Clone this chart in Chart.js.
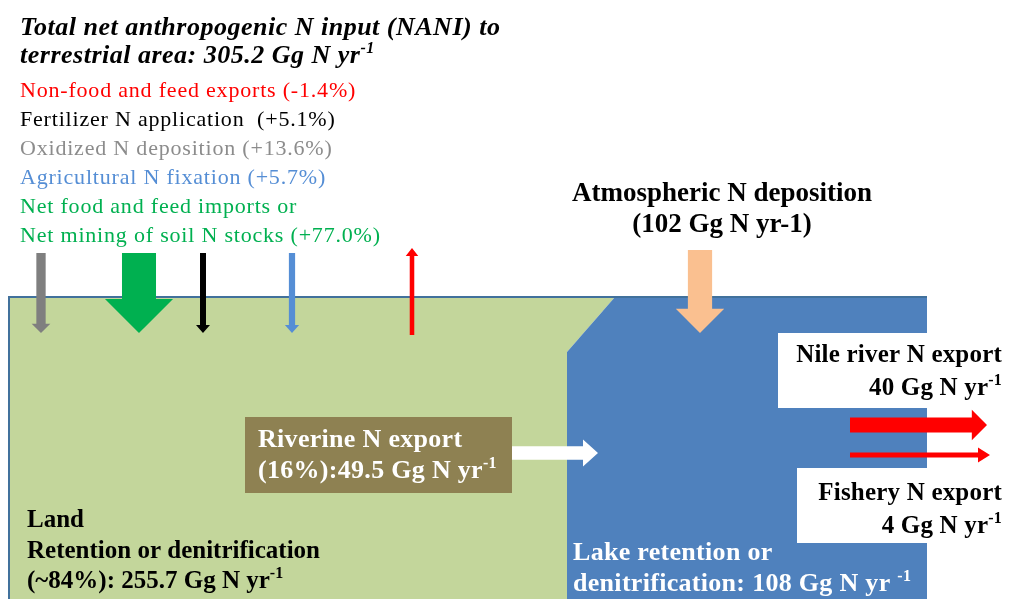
<!DOCTYPE html>
<html>
<head>
<meta charset="utf-8">
<script src="https://cdn.jsdelivr.net/npm/chart.js@4.4.1/dist/chart.umd.min.js"></script>
<style>
  html, body { margin: 0; padding: 0; background: #fff; }
  canvas { display: block; }
</style>
</head>
<body>
<canvas id="nani" width="1012" height="599"></canvas>
<script>
// N budget of the basin, Gg N per year, and shares of NANI
const naniTotal = 305.2;
const inputLabels = ["Non-food and feed exports", "Fertilizer N application ", "Oxidized N deposition",
  "Agricultural N fixation", "Net food and feed imports or|Net mining of soil N stocks"];
const inputShares = [-1.4, 5.1, 13.6, 5.7, 77.0];
const landRetention = 255.7;
const landRetentionShare = 84;
const riverineExport = 49.5;
const riverineShare = 16;
const atmDeposition = 102;
const lakeRetention = 108;
const outputLabels = ["Nile river N export", "Fishery N export"];
const outputValues = [40, 4];

// look and layout (diagram units = px of the 1012x599 frame)
const inputTextColors = ["#ff0000", "#000000", "#8c8c8c", "#558ed5", "#00b050"];
const inputArrowColors = ["#ff0000", "#000000", "#7f7f7f", "#558ed5", "#00b050"];
const inputArrowX = [412, 203, 41, 292, 139];
const serif = '"Liberation Serif", "Times New Roman", serif';

const fmtShare = v => (v > 0 ? "+" : "") + v.toFixed(1) + "%";

// arrow outline from start to tip, shaft width w
function arrow(x0, y0, x1, y1, w, hw, hl) {
  const len = Math.hypot(x1 - x0, y1 - y0);
  const dx = (x1 - x0) / len, dy = (y1 - y0) / len;
  const nx = -dy, ny = dx;
  const bx = x1 - dx * hl, by = y1 - dy * hl;
  return [
    [x0 + nx * w / 2, y0 + ny * w / 2],
    [bx + nx * w / 2, by + ny * w / 2],
    [bx + nx * hw / 2, by + ny * hw / 2],
    [x1, y1],
    [bx - nx * hw / 2, by - ny * hw / 2],
    [bx - nx * w / 2, by - ny * w / 2],
    [x0 - nx * w / 2, y0 - ny * w / 2],
  ];
}
const inputWidth = s => 4 + 0.39 * Math.abs(s);
const flowWidth = v => 2.4 * Math.sqrt(v);

function poly(label, pts, color, layer) {
  return {
    label, polygon: layer, backgroundColor: color,
    data: pts.map(([x, y]) => ({ x, y })),
    showLine: false, pointRadius: 0, pointHoverRadius: 0,
  };
}

const datasets = [];
datasets.push(poly("Land", [[8, 297], [615, 297], [567, 352], [567, 599], [8, 599]], "#c3d69b", "back"));
datasets.push(poly("Lake", [[615, 297], [927, 297], [927, 599], [567, 599], [567, 352]], "#4f81bd", "back"));
datasets.push({ label: "edge top", data: [{ x: 8, y: 297 }, { x: 927, y: 297 }], showLine: true,
  borderColor: "#41719c", borderWidth: 2, pointRadius: 0 });
datasets.push({ label: "edge left", data: [{ x: 9, y: 297 }, { x: 9, y: 599 }], showLine: true,
  borderColor: "#41719c", borderWidth: 2, pointRadius: 0 });

// output boxes and riverine box
datasets.push(poly("Nile box", [[778, 333], [1012, 333], [1012, 408], [778, 408]], "#ffffff", "front"));
datasets.push(poly("Fishery box", [[797, 468], [1012, 468], [1012, 543], [797, 543]], "#ffffff", "front"));
datasets.push(poly("Riverine box", [[245, 417], [512, 417], [512, 493], [245, 493]], "#8e8152", "front"));

// NANI input arrows
inputShares.forEach((s, i) => {
  const w = inputWidth(s);
  const hw = Math.max(2 * w, w + 8), hl = Math.max(8, w);
  const x = inputArrowX[i];
  const pts = s < 0 ? arrow(x, 335, x, 248, w, hw, hl) : arrow(x, 253, x, 333, w, hw, hl);
  datasets.push(poly(inputLabels[i], pts, inputArrowColors[i], "front"));
});

// lake flows
{
  const w = flowWidth(atmDeposition);
  datasets.push(poly("Atmospheric", arrow(700, 250, 700, 333, w, Math.max(2 * w, w + 10), w), "#fac090", "front"));
  const wr = flowWidth(riverineExport) * 0.8;
  datasets.push(poly("Riverine", arrow(512, 453, 598, 453, wr, wr * 2, 15), "#ffffff", "front"));
  const outY = [425, 455], outEnd = [987, 990];
  outputValues.forEach((v, i) => {
    const wo = flowWidth(v);
    datasets.push(poly(outputLabels[i], arrow(850, outY[i], outEnd[i], outY[i], wo, Math.max(2 * wo, wo + 10), Math.max(12, wo)), "#ff0000", "front"));
  });
}

// text blocks: [x, baseline, align, font, color, parts, letter spacing]
const titleFont = "italic bold 26px " + serif;
const boldFont = "bold 25px " + serif;
const bigBold = "bold 26px " + serif;
const listFont = "22px " + serif;
const texts = [
  [20, 35, "left", titleFont, "#000", [["Total net anthropogenic N input (NANI) to"]], 0.5],
  [20, 63, "left", titleFont, "#000", [["terrestrial area: " + naniTotal.toFixed(1) + " Gg N yr"], ["-1", true]], 0.5],
];
{
  let y = 97;
  inputLabels.forEach((lab, i) => {
    const lines = lab.split("|");
    lines.forEach((ln, k) => {
      const t = k === lines.length - 1 ? ln + " (" + fmtShare(inputShares[i]) + ")" : ln;
      texts.push([20, y, "left", listFont, inputTextColors[i], [[t]], 0.8]);
      y += 29;
    });
  });
}
texts.push([722, 201, "center", "bold 27px " + serif, "#000", [["Atmospheric N deposition"]]]);
texts.push([722, 232, "center", "bold 27px " + serif, "#000", [["(" + atmDeposition + " Gg N yr-1)"]]]);
texts.push([1002, 362, "right", boldFont, "#000", [[outputLabels[0]]], 0.2]);
texts.push([1002, 395, "right", boldFont, "#000", [[outputValues[0] + " Gg N yr"], ["-1", true]], 0.2]);
texts.push([1002, 500, "right", boldFont, "#000", [[outputLabels[1]]], 0.2]);
texts.push([1002, 533, "right", boldFont, "#000", [[outputValues[1] + " Gg N yr"], ["-1", true]], 0.2]);
texts.push([258, 447, "left", bigBold, "#fff", [["Riverine N export"]], 0.3]);
texts.push([258, 478, "left", bigBold, "#fff", [["(" + riverineShare + "%):" + riverineExport.toFixed(1) + " Gg N yr"], ["-1", true]], 0.3]);
texts.push([27, 527, "left", boldFont, "#000", [["Land"]]]);
texts.push([27, 558, "left", boldFont, "#000", [["Retention or denitrification"]]]);
texts.push([27, 588, "left", boldFont, "#000", [["(~" + landRetentionShare + "%): " + landRetention.toFixed(1) + " Gg N yr"], ["-1", true]]]);
texts.push([573, 560, "left", bigBold, "#fff", [["Lake retention or"]], 0.3]);
texts.push([573, 591, "left", bigBold, "#fff", [["denitrification: " + lakeRetention + " Gg N yr "], ["-1", true]], 0.3]);

function supFont(font) {
  return font.replace(/(\d+)px/, (m, n) => Math.round(n * 0.62) + "px");
}

function drawRich(ctx, x, y, align, font, color, parts, spacing) {
  ctx.save();
  ctx.fillStyle = color;
  ctx.textAlign = "left";
  ctx.textBaseline = "alphabetic";
  ctx.letterSpacing = (spacing || 0) + "px";
  const size = parseFloat(font.match(/(\d+)px/)[1]);
  const widths = parts.map(([t, sup]) => {
    ctx.font = sup ? supFont(font) : font;
    return ctx.measureText(t).width;
  });
  const total = widths.reduce((a, b) => a + b, 0);
  let cx = align === "right" ? x - total : align === "center" ? x - total / 2 : x;
  parts.forEach(([t, sup], i) => {
    ctx.font = sup ? supFont(font) : font;
    ctx.fillText(t, cx, sup ? y - size * 0.4 : y);
    cx += widths[i];
  });
  ctx.restore();
}

function drawPolys(chart, layer) {
  const ctx = chart.ctx;
  chart.data.datasets.forEach((ds, i) => {
    if (ds.polygon !== layer) return;
    const pts = chart.getDatasetMeta(i).data;
    ctx.save();
    ctx.beginPath();
    pts.forEach((p, k) => (k ? ctx.lineTo(p.x, p.y) : ctx.moveTo(p.x, p.y)));
    ctx.closePath();
    ctx.fillStyle = ds.backgroundColor;
    ctx.fill();
    ctx.restore();
  });
}

const diagramPlugin = {
  id: "diagram",
  beforeDatasetsDraw(chart) { drawPolys(chart, "back"); },
  afterDatasetsDraw(chart) {
    drawPolys(chart, "front");
    const sx = chart.scales.x, sy = chart.scales.y;
    texts.forEach(([x, y, align, font, color, parts, sp]) => {
      drawRich(chart.ctx, sx.getPixelForValue(x), sy.getPixelForValue(y), align, font, color, parts, sp);
    });
  },
};

new Chart(document.getElementById("nani"), {
  type: "scatter",
  data: { datasets },
  options: {
    responsive: false,
    animation: false,
    devicePixelRatio: 1,
    layout: { padding: 0 },
    events: [],
    clip: false,
    scales: {
      x: { type: "linear", min: 0, max: 1012, display: false },
      y: { type: "linear", min: 0, max: 599, reverse: true, display: false },
    },
    plugins: { legend: { display: false }, tooltip: { enabled: false } },
  },
  plugins: [diagramPlugin],
});
</script>
</body>
</html>
